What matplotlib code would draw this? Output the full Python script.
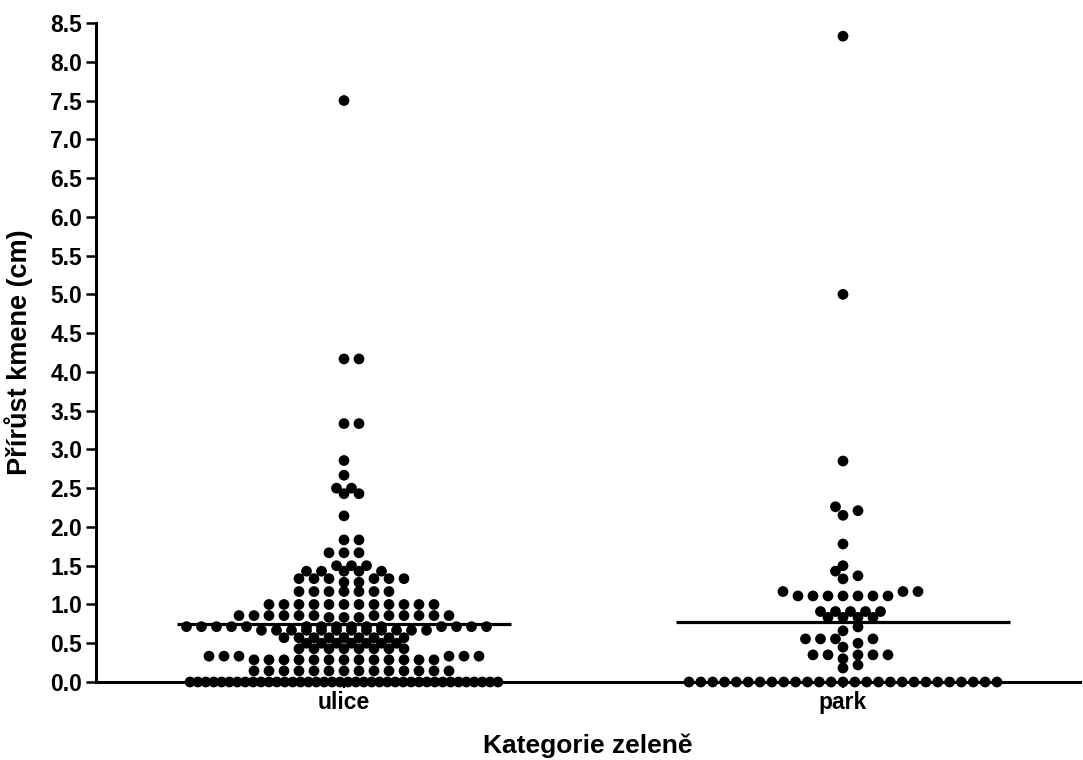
import matplotlib.pyplot as plt
import numpy as np

plt.rcParams['font.family'] = ['Liberation Sans', 'DejaVu Sans']
plt.rcParams['font.weight'] = 'bold'

categories = ['ulice', 'park']

# increments (cm) and how many trees share each value
ulice_values = [7.5, 4.167, 3.333, 2.857, 2.667, 2.5, 2.429, 2.143, 1.833, 1.667,
                1.5, 1.429, 1.333, 1.286, 1.167, 1.0, 0.857, 0.833, 0.714, 0.667,
                0.571, 0.5, 0.429, 0.333, 0.286, 0.143, 0.0]
ulice_counts = [1, 2, 2, 1, 1, 2, 2, 1, 2, 3,
                3, 5, 6, 2, 7, 12, 12, 3, 15, 12,
                9, 7, 8, 6, 13, 14, 40]

park_values = [8.33, 5.0, 2.85, 2.26, 2.21, 2.15, 1.78, 1.5, 1.43, 1.37, 1.33,
               1.167, 1.11, 0.909, 0.833, 0.71, 0.66, 0.556, 0.5, 0.45,
               0.35, 0.3, 0.22, 0.18, 0.0]
park_counts = [1, 1, 1, 1, 1, 1, 1, 1, 1, 1, 1,
               3, 7, 5, 4, 1, 1, 4, 1, 1,
               5, 1, 1, 1, 27]

DOT_STEP = 15.0     # px between neighbours with the same value
HALF = 7.5          # candidate grid, px
ROW_WIDTH = 308.0   # widest a column may get, px
MIN_GAP = 9.2       # closest two different values may sit, px


def swarm(values, counts, ypx):
    """Place dots one by one from the bottom, each as near the centre as it fits."""
    placed = []  # (x, y, value)
    limit = ROW_WIDTH / 2
    slots = np.arange(-limit // HALF, limit // HALF + 1) * HALF
    for v, n in sorted(zip(values, counts)):
        y = v * ypx
        if (n - 1) * DOT_STEP > ROW_WIDTH:
            # too many equal values: squeeze them into one row
            for x in np.linspace(-limit, limit, n):
                placed.append((x, y, v))
            continue
        row = []
        for _ in range(n):
            best = None
            for x in slots:
                if any(abs(x - rx) < DOT_STEP - 0.01 for rx in row):
                    continue
                hits = sum(1 for px, py, pv in placed
                           if pv != v and (x - px) ** 2 + (y - py) ** 2 < MIN_GAP ** 2)
                left = sum(1 for rx in row if rx < 0)
                right = sum(1 for rx in row if rx > 0)
                side = 0 if x == 0 else (0.5 if (x > 0) == (right <= left) else 1)
                key = (hits, abs(x), side)
                if best is None or key < best[0]:
                    best = (key, x)
            row.append(best[1])
            placed.append((best[1], y, v))
    xs = np.array([p[0] for p in placed])
    vs = np.array([p[2] for p in placed])
    return xs, vs


fig = plt.figure(figsize=(10.83, 7.6), dpi=100)
ax = fig.add_axes([96 / 1083, 78 / 760, 984 / 1083, 659 / 760])
ax.set_xlim(-0.497, 1.475)
ax.set_ylim(0, 8.5)

xpx = ax.bbox.width / (1.475 + 0.497)
ypx = ax.bbox.height / 8.5

groups = [(ulice_values, ulice_counts), (park_values, park_counts)]
for i, (vals, cnts) in enumerate(groups):
    offs, v = swarm(vals, cnts, ypx)
    ax.scatter(i + offs / xpx, v, s=60, color='black', edgecolors='none',
               clip_on=False, zorder=3)
    mean = np.repeat(vals, cnts).mean()
    ax.plot([i - 0.335, i + 0.335], [mean, mean], color='black', lw=2.3,
            solid_capstyle='butt', zorder=4)

for side in ['top', 'right']:
    ax.spines[side].set_visible(False)
for side in ['left', 'bottom']:
    ax.spines[side].set_linewidth(2.2)

yt = np.arange(0, 8.51, 0.5)
ax.set_yticks(yt)
ax.set_yticklabels([f'{t:.1f}' for t in yt])
ax.tick_params(axis='y', length=7, width=1.8, pad=3, labelsize=16.5)
ax.set_xticks([0, 1])
ax.set_xticklabels(categories)
ax.tick_params(axis='x', length=4.5, width=1.5, pad=2, labelsize=16.5)

ax.set_ylabel('Přírůst kmene (cm)', fontsize=19.5, fontweight='bold')
ax.yaxis.set_label_coords(-0.064, 0.5)
ax.set_xlabel('Kategorie zeleně', fontsize=19, fontweight='bold')
ax.xaxis.set_label_coords(0.5, -0.078)

fig.savefig('out.png', dpi=100)
